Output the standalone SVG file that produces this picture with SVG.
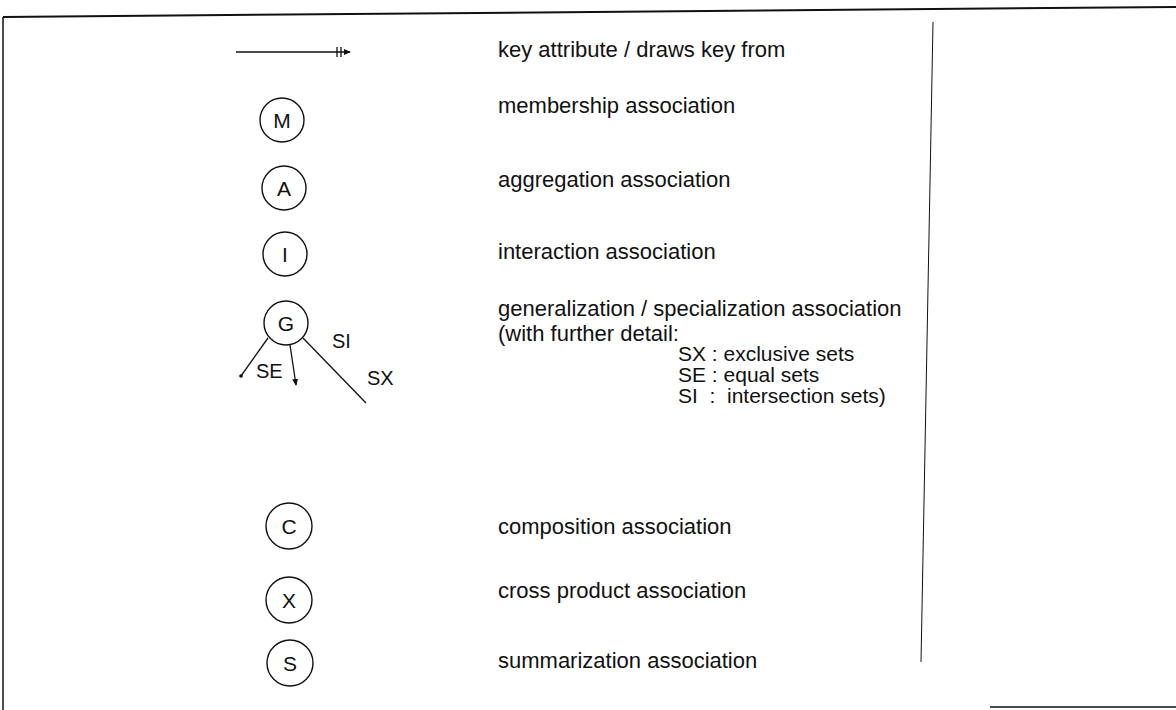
<svg xmlns="http://www.w3.org/2000/svg" width="1176" height="710" viewBox="0 0 1176 710">
<style>
text{font-family:"Liberation Sans",Arial,sans-serif;fill:#111;}
.lbl{font-size:22px;}
.det{font-size:21px;}
.sml{font-size:20px;}
.ltr{font-size:21px;text-anchor:middle;}
.node circle{fill:none;stroke:#111;stroke-width:1.4;}
.conn line{stroke:#111;stroke-width:1.3;}
.frame{stroke:#111;fill:none;}
</style>
<defs>
<marker id="ah" markerWidth="8" markerHeight="8" refX="6" refY="3" orient="auto" markerUnits="userSpaceOnUse">
<path d="M0,0 L7,3 L0,6 Z" fill="#111"/>
</marker>
<marker id="dot" markerWidth="6" markerHeight="6" refX="3" refY="3" markerUnits="userSpaceOnUse">
<circle cx="3" cy="3" r="1.8" fill="#111"/>
</marker>
</defs>
<g id="frame">
<line class="frame" x1="3" y1="17" x2="1176" y2="7" stroke-width="2"/>
<line class="frame" x1="3" y1="17" x2="3" y2="710" stroke-width="1.5"/>
<line class="frame" x1="990" y1="707" x2="1176" y2="707" stroke-width="1.5" stroke="#555"/>
<line class="frame" x1="933" y1="22" x2="921" y2="662" stroke-width="1" stroke="#aaa"/>
</g>
<g id="key-attr" class="conn">
<line x1="236" y1="52" x2="350" y2="52" marker-end="url(#ah)"/>
<line x1="337" y1="47" x2="337" y2="57"/>
<line x1="341" y1="47" x2="341" y2="57"/>
</g>
<g id="node-M" class="node"><circle cx="282" cy="120" r="22"/><text class="ltr" x="282" y="127.5">M</text></g>
<g id="node-A" class="node"><circle cx="284" cy="188" r="22"/><text class="ltr" x="284" y="195.5">A</text></g>
<g id="node-I" class="node"><circle cx="285" cy="254" r="22"/><text class="ltr" x="285" y="261.5">I</text></g>
<g id="node-G" class="node"><circle cx="286" cy="323" r="22"/><text class="ltr" x="286" y="330.5">G</text></g>
<g id="node-C" class="node"><circle cx="289" cy="526" r="23"/><text class="ltr" x="289" y="533.5">C</text></g>
<g id="node-X" class="node"><circle cx="289" cy="600" r="23"/><text class="ltr" x="289" y="607.5">X</text></g>
<g id="node-S" class="node"><circle cx="290" cy="663" r="23"/><text class="ltr" x="290" y="670.5">S</text></g>
<g id="connectors" class="conn">
<line x1="268" y1="338" x2="241" y2="376" marker-end="url(#dot)"/>
<line x1="290" y1="345" x2="296" y2="385" marker-end="url(#ah)"/>
<line x1="303" y1="338" x2="366" y2="403"/>
</g>
<g id="g-labels">
<text class="sml" x="256" y="378">SE</text>
<text class="sml" x="332" y="348">SI</text>
<text class="sml" x="367" y="385">SX</text>
</g>
<g id="descriptions">
<text class="lbl" x="498" y="57">key attribute / draws key from</text>
<text class="lbl" x="498" y="113">membership association</text>
<text class="lbl" x="498" y="187">aggregation association</text>
<text class="lbl" x="498" y="259">interaction association</text>
<text class="lbl" x="498" y="316">generalization / specialization association</text>
<text class="lbl" x="498" y="341">(with further detail:</text>
<text class="det" x="678" y="361">SX : exclusive sets</text>
<text class="det" x="678" y="382">SE : equal sets</text>
<text class="det" x="678" y="403" xml:space="preserve">SI  :  intersection sets)</text>
<text class="lbl" x="498" y="534">composition association</text>
<text class="lbl" x="498" y="598">cross product association</text>
<text class="lbl" x="498" y="668">summarization association</text>
</g>
</svg>
